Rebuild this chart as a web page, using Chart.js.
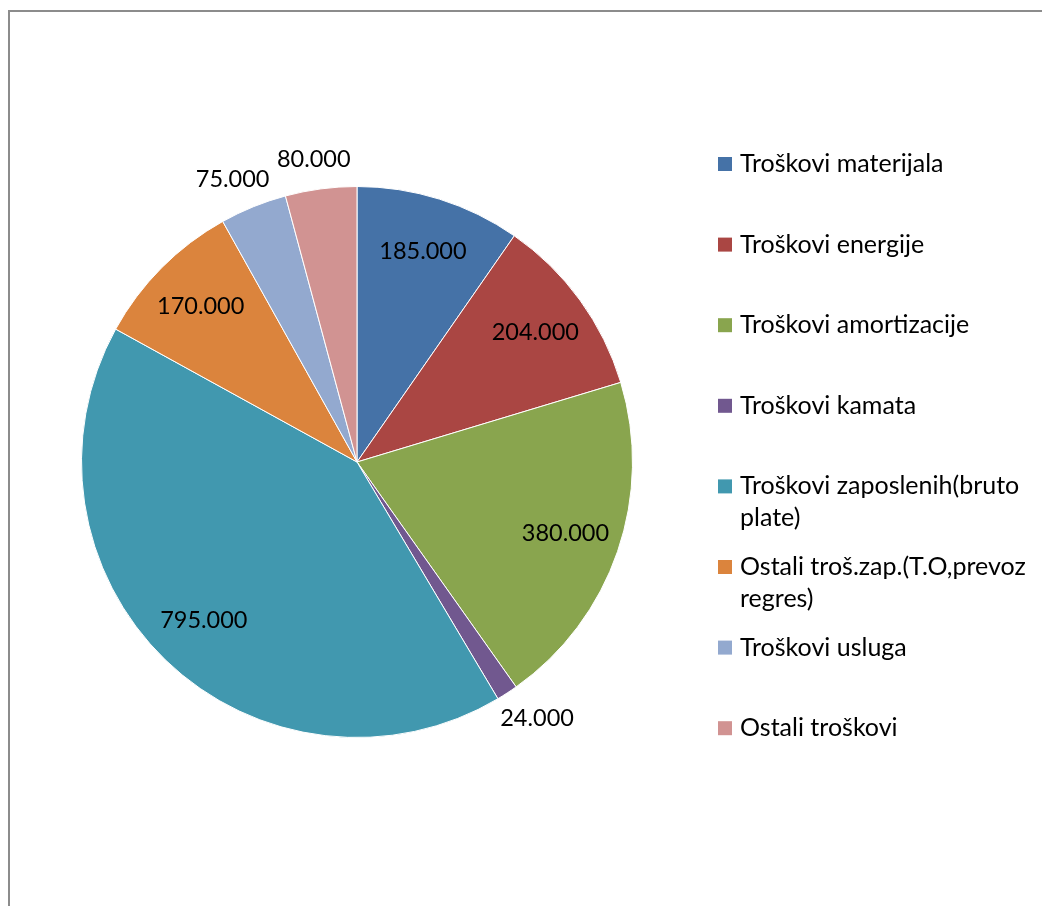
<!DOCTYPE html>
<html>
<head>
<meta charset="utf-8">
<script src="https://cdn.jsdelivr.net/npm/chart.js@4.4.1/dist/chart.umd.min.js"></script>
<style>
  html, body { margin: 0; padding: 0; background: #ffffff; }
  #wrap { position: relative; width: 1042px; height: 906px; overflow: hidden; }
  #frame { position: absolute; left: 8px; top: 10px; width: 1100px; height: 1000px;
           border-left: 2px solid #8c8c8c; border-top: 2px solid #8c8c8c; box-sizing: border-box; }
  canvas { position: absolute; left: 0; top: 0; }
</style>
</head>
<body>
<div id="wrap">
  <div id="frame"></div>
  <canvas id="c" width="1042" height="906"></canvas>
</div>
<script>
// ---- data ----
const categories = [
  ["Troškovi materijala"],
  ["Troškovi energije"],
  ["Troškovi amortizacije"],
  ["Troškovi kamata"],
  ["Troškovi zaposlenih(bruto", "plate)"],
  ["Ostali troš.zap.(T.O,prevoz", "regres)"],
  ["Troškovi usluga"],
  ["Ostali troškovi"]
];
const values = [185000, 204000, 380000, 24000, 795000, 170000, 75000, 80000];
const colors = ["#4572A7", "#AA4643", "#89A54E", "#71588F", "#4198AF", "#DB843D", "#93A9CF", "#D19392"];

const FONT = "Lato, 'Open Sans', sans-serif";

function fmt(v) {
  return String(v).replace(/\B(?=(\d{3})+(?!\d))/g, ".");
}

const labelPlugin = {
  id: "labelPlugin",
  afterDraw(chart) {
    const ctx = chart.ctx;
    const meta = chart.getDatasetMeta(0);
    const data = chart.data.datasets[0].data;
    const total = data.reduce((a, b) => a + b, 0);
    ctx.save();
    ctx.font = "23.5px " + FONT;
    ctx.fillStyle = "#000000";
    ctx.textAlign = "center";
    ctx.textBaseline = "middle";
    meta.data.forEach((arc, i) => {
      const p = arc.getProps(["x", "y", "startAngle", "endAngle", "outerRadius"], true);
      const mid = (p.startAngle + p.endAngle) / 2;
      const txt = fmt(data[i]);
      const c = Math.cos(mid), s = Math.sin(mid);
      let lx, ly;
      if (data[i] / total > 0.05) {
        const r = p.outerRadius * 0.8;
        lx = p.x + c * r; ly = p.y + s * r;
      } else {
        const w = ctx.measureText(txt).width;
        const r = p.outerRadius + 18;
        lx = p.x + c * r + c * w / 2;
        ly = p.y + s * r + s * 12;
      }
      ctx.fillText(txt, lx, ly);
    });

    // legend
    const lx0 = 718, ly0 = 164, step = 80.6, box = 14, lineH = 31.5;
    ctx.font = "25px " + FONT;
    ctx.textAlign = "left";
    categories.forEach((lines, i) => {
      const y = ly0 + i * step;
      ctx.fillStyle = colors[i];
      ctx.fillRect(lx0, y - box / 2, box, box);
      ctx.fillStyle = "#000000";
      lines.forEach((ln, j) => ctx.fillText(ln, lx0 + 22, y + j * lineH));
    });
    ctx.restore();
  }
};

new Chart(document.getElementById("c"), {
  type: "pie",
  data: {
    labels: categories.map(l => l.join(" ")),
    datasets: [{
      data: values,
      backgroundColor: colors,
      borderColor: "#ffffff",
      borderWidth: 1
    }]
  },
  options: {
    responsive: false,
    animation: false,
    layout: { padding: { left: 81, top: 186, right: 409, bottom: 168 } },
    plugins: {
      legend: { display: false },
      tooltip: { enabled: false }
    }
  },
  plugins: [labelPlugin]
});
</script>
</body>
</html>
